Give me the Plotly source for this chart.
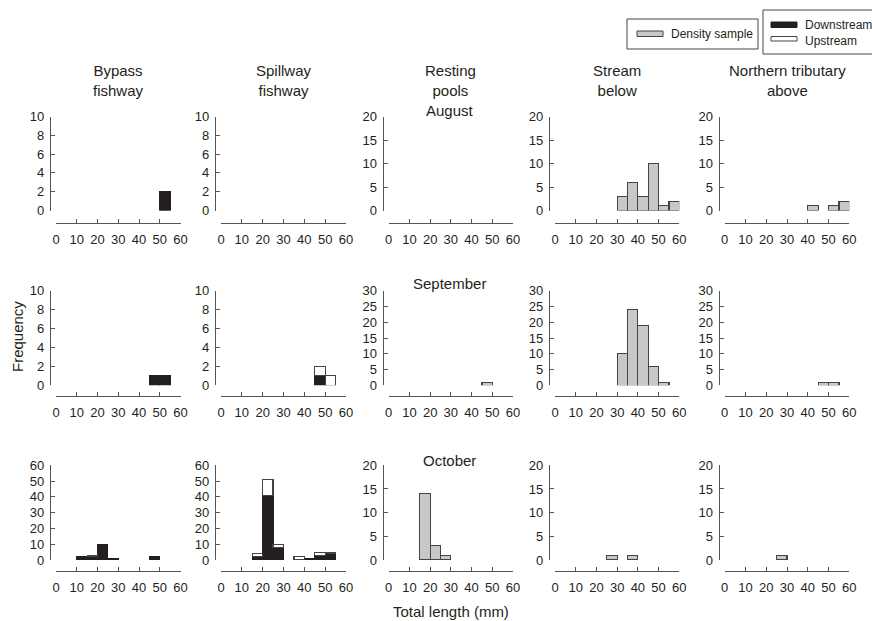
import plotly.graph_objects as go

W, H = 872, 621

# 5-mm length classes, 0-60 mm (bin centres)
length_bins = [2.5, 7.5, 12.5, 17.5, 22.5, 27.5, 32.5, 37.5, 42.5, 47.5, 52.5, 57.5]

months = ["August", "September", "October"]
sites = ["Bypass<br>fishway", "Spillway<br>fishway", "Resting<br>pools",
         "Stream<br>below", "Northern tributary<br>above"]

# Fishway captures by direction of movement (counts per 5-mm class)
bypass_down = {
    "August":    [0, 0, 0, 0, 0, 0, 0, 0, 0, 0, 2, 0],
    "September": [0, 0, 0, 0, 0, 0, 0, 0, 0, 1, 1, 0],
    "October":   [0, 0, 2, 2, 10, 1, 0, 0, 0, 2, 0, 0],
}
bypass_up = {
    "August":    [0] * 12,
    "September": [0] * 12,
    "October":   [0, 0, 0, 1, 0, 0, 0, 0, 0, 0, 0, 0],
}
spillway_down = {
    "August":    [0] * 12,
    "September": [0, 0, 0, 0, 0, 0, 0, 0, 0, 1, 0, 0],
    "October":   [0, 0, 0, 2, 41, 8, 0, 0, 1, 3, 4, 0],
}
spillway_up = {
    "August":    [0] * 12,
    "September": [0, 0, 0, 0, 0, 0, 0, 0, 0, 1, 1, 0],
    "October":   [0, 0, 0, 2, 10, 2, 0, 2, 0, 2, 1, 0],
}

# Density samples (counts per 5-mm class)
pools_density = {
    "August":    [0] * 12,
    "September": [0, 0, 0, 0, 0, 0, 0, 0, 0, 1, 0, 0],
    "October":   [0, 0, 0, 14, 3, 1, 0, 0, 0, 0, 0, 0],
}
stream_density = {
    "August":    [0, 0, 0, 0, 0, 0, 3, 6, 3, 10, 1, 2],
    "September": [0, 0, 0, 0, 0, 0, 10, 24, 19, 6, 1, 0],
    "October":   [0, 0, 0, 0, 0, 1, 0, 1, 0, 0, 0, 0],
}
tributary_density = {
    "August":    [0, 0, 0, 0, 0, 0, 0, 0, 1, 0, 1, 2],
    "September": [0, 0, 0, 0, 0, 0, 0, 0, 0, 1, 1, 0],
    "October":   [0, 0, 0, 0, 0, 1, 0, 0, 0, 0, 0, 0],
}

# y-axis maximum and tick step per row (month) and column (site)
y_max = [[10, 10, 20, 20, 20],
         [10, 10, 30, 30, 30],
         [60, 60, 20, 20, 20]]
y_step = {10: 2, 20: 5, 30: 5, 60: 10}
x_ticks = [0, 10, 20, 30, 40, 50, 60]

# ---- panel geometry (pixels) ----
col_x0 = [56, 221, 388.7, 555, 724.7]       # x = 0 mm
col_x60 = [180.5, 346, 513, 679.3, 849.3]   # x = 60 mm
row_top = [116.5, 290.7, 465.3]             # y = max
row_zero = [210.5, 385.3, 560]              # y = 0
row_xline = [223, 396, 571]                 # offset x-axis line
yline_offset = 6

FONT = "Liberation Sans, Arial, sans-serif"
TXT = "#231f20"
AX = "#555555"
GREY = "#c8c8c8"
EDGE = "#444444"
BLACK = "#231f20"


def fx(px):
    return px / W


def fy(py):
    return 1 - py / H


def nz(values):
    return [v if v else None for v in values]


fig = go.Figure()
layout = {}

for r, month in enumerate(months):
    for c in range(5):
        k = r * 5 + c + 1
        xa = "x" if k == 1 else f"x{k}"
        ya = "y" if k == 1 else f"y{k}"
        xkey = "xaxis" if k == 1 else f"xaxis{k}"
        ykey = "yaxis" if k == 1 else f"yaxis{k}"

        if c in (0, 1):
            down = bypass_down if c == 0 else spillway_down
            up = bypass_up if c == 0 else spillway_up
            fig.add_trace(go.Bar(
                x=length_bins, y=nz(down[month]), width=5, xaxis=xa, yaxis=ya,
                name="Downstream", showlegend=False,
                marker=dict(color=BLACK, line=dict(color=BLACK, width=1.2))))
            fig.add_trace(go.Bar(
                x=length_bins, y=nz(up[month]), width=5, xaxis=xa, yaxis=ya,
                name="Upstream", showlegend=False,
                marker=dict(color="white", line=dict(color=EDGE, width=1.2))))
        else:
            dens = [pools_density, stream_density, tributary_density][c - 2]
            fig.add_trace(go.Bar(
                x=length_bins, y=nz(dens[month]), width=5, xaxis=xa, yaxis=ya,
                name="Density sample", showlegend=False,
                marker=dict(color=GREY, line=dict(color=EDGE, width=1.2))))

        ym = y_max[r][c]
        layout[xkey] = dict(
            domain=[fx(col_x0[c]), fx(col_x60[c])], range=[0, 60],
            anchor="free", position=fy(row_xline[r]),
            tickvals=x_ticks, ticks="inside", ticklen=4, tickcolor=AX,
            showline=True, linecolor=AX, linewidth=1.3,
            showgrid=False, zeroline=False, ticklabelstandoff=4,
            tickfont=dict(family=FONT, size=13, color=TXT), fixedrange=True)
        layout[ykey] = dict(
            domain=[fy(row_zero[r]), fy(row_top[r])], range=[0, ym],
            anchor="free", position=fx(col_x0[c] - yline_offset),
            tickvals=list(range(0, ym + 1, y_step[ym])),
            ticks="inside", ticklen=4, tickcolor=AX,
            showline=True, linecolor=AX, linewidth=1.3,
            showgrid=False, zeroline=False, ticklabelstandoff=3,
            tickfont=dict(family=FONT, size=13, color=TXT), fixedrange=True)

annotations = []
# column headings
for c, s in enumerate(sites):
    annotations.append(dict(
        x=fx((col_x0[c] + col_x60[c]) / 2), y=fy(80), xref="paper", yref="paper",
        text=s, showarrow=False, xanchor="center", yanchor="middle",
        font=dict(family=FONT, size=15, color=TXT)))
# month labels
for py, m in zip([110, 283, 460], months):
    annotations.append(dict(
        x=fx(450), y=fy(py), xref="paper", yref="paper", text=m,
        showarrow=False, xanchor="center", yanchor="middle",
        font=dict(family=FONT, size=15, color=TXT)))
annotations.append(dict(
    x=fx(17), y=fy(337), xref="paper", yref="paper", text="Frequency",
    showarrow=False, textangle=-90, xanchor="center", yanchor="middle",
    font=dict(family=FONT, size=15, color=TXT)))
annotations.append(dict(
    x=fx(451), y=fy(611), xref="paper", yref="paper", text="Total length (mm)",
    showarrow=False, xanchor="center", yanchor="middle",
    font=dict(family=FONT, size=15, color=TXT)))

# legend boxes
shapes = [
    dict(type="rect", xref="paper", yref="paper", x0=fx(627), x1=fx(758),
         y0=fy(49), y1=fy(19), line=dict(color=EDGE, width=1), fillcolor="white"),
    dict(type="rect", xref="paper", yref="paper", x0=fx(637), x1=fx(663),
         y0=fy(36.5), y1=fy(31), line=dict(color=EDGE, width=1), fillcolor=GREY),
    dict(type="rect", xref="paper", yref="paper", x0=fx(763), x1=fx(885),
         y0=fy(54), y1=fy(10), line=dict(color=EDGE, width=1), fillcolor="white"),
    dict(type="rect", xref="paper", yref="paper", x0=fx(771), x1=fx(797),
         y0=fy(27.5), y1=fy(22), line=dict(color=BLACK, width=1), fillcolor=BLACK),
    dict(type="rect", xref="paper", yref="paper", x0=fx(771), x1=fx(797),
         y0=fy(41), y1=fy(36.5), line=dict(color=EDGE, width=1), fillcolor="white"),
]
for px, py, t in [(669, 34, "Density sample"), (803, 25, "Downstream"), (803, 41, "Upstream")]:
    annotations.append(dict(
        x=fx(px), y=fy(py), xref="paper", yref="paper", text=t, showarrow=False,
        xanchor="left", yanchor="middle", font=dict(family=FONT, size=12, color=TXT)))

fig.update_layout(
    width=W, height=H,
    margin=dict(l=0, r=0, t=0, b=0, autoexpand=False),
    paper_bgcolor="white", plot_bgcolor="white",
    barmode="stack", showlegend=False,
    annotations=annotations, shapes=shapes,
    font=dict(family=FONT, color=TXT), **layout)

fig.write_html("out.html")
